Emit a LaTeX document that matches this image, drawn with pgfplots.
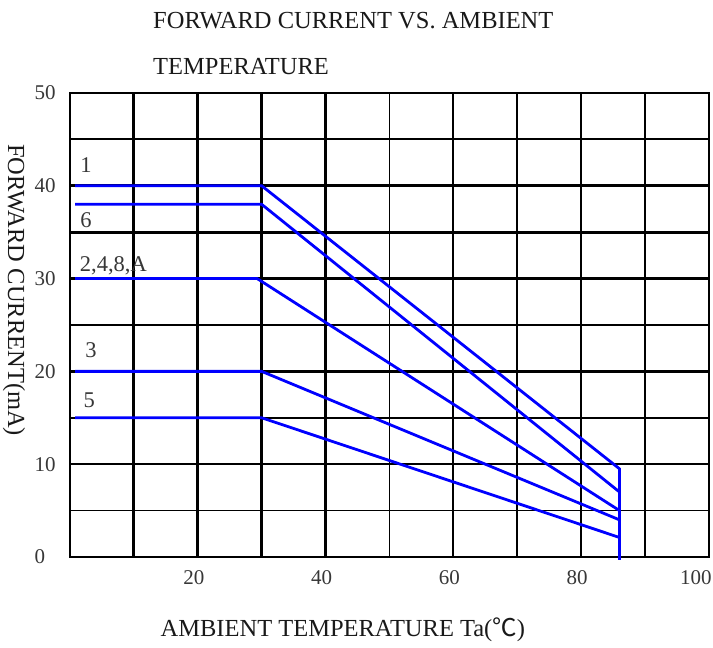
\documentclass[border=0pt]{standalone}
\usepackage{pgfplots}
\pgfplotsset{compat=1.18}
\usepackage{fontspec}
\setmainfont{Liberation Serif}
\newfontfamily\cjk{Noto Sans CJK SC}
\definecolor{lineblue}{RGB}{0,0,255}
\definecolor{ticktxt}{RGB}{55,55,55}
\definecolor{titletxt}{RGB}{25,25,25}

\newcommand{\tickfont}{\fontsize{21}{25}\selectfont}
\newcommand{\lblfont}{\fontsize{22.5}{26}\selectfont}
\newcommand{\ttlfont}{\fontsize{24.5}{29}\selectfont}

\begin{document}
\begin{tikzpicture}
\begin{axis}[
  scale only axis, width=639pt, height=464pt,
  xmin=0, xmax=100, ymin=0, ymax=50,
  xtick={0,10,...,100},
  xticklabels={,,20,,40,,60,,80,,\hspace*{-18pt}100},
  ytick={0,5,...,50},
  yticklabels={0,,10,,20,,30,,40,,50},
  grid=major,
  major grid style={black, line width=1.8pt},
  axis line style={black, line width=1.8pt},
  % heavier grid lines in the lower left part, as in the scan
  extra x ticks={0,10,20,30,40},
  extra x tick labels={},
  extra x tick style={grid=major, major grid style={black, line width=2.8pt}},
  extra y ticks={0,20,25,30,35,40},
  extra y tick labels={},
  extra y tick style={grid=major, major grid style={black, line width=2.8pt}},
  tick style={draw=none},
  ticklabel style={font=\tickfont, text=ticktxt},
  xticklabel style={yshift=-10pt, xshift=-4pt},
  yticklabel style={anchor=west, xshift=-39pt},
  /pgf/number format/assume math mode=true,
  clip=false,
]
% curves: flat to 30 C, then derated to about 86 C
\addplot[lineblue, line width=2.8pt] coordinates {(0.8,40) (30,40) (86,9.5)};
\addplot[lineblue, line width=2.8pt] coordinates {(0.8,38) (30,38) (86,7.0)};
\addplot[lineblue, line width=2.8pt] coordinates {(0.8,30) (29.3,30) (86,5.0)};
\addplot[lineblue, line width=2.8pt] coordinates {(0.8,20) (30,20) (86,4.0)};
\addplot[lineblue, line width=2.8pt] coordinates {(0.8,15) (30,15) (86,2.1)};
\addplot[lineblue, line width=2.8pt] coordinates {(86,9.6) (86,-0.3)};

\node[font=\lblfont, text=ticktxt] at (axis cs:2.5,42.2) {1};
\node[font=\lblfont, text=ticktxt] at (axis cs:2.5,36.3) {6};
\node[font=\lblfont, text=ticktxt, anchor=west] at (axis cs:1.0,31.4) {2,4,8,A};
\node[font=\lblfont, text=ticktxt] at (axis cs:3.3,22.3) {3};
\node[font=\lblfont, text=ticktxt] at (axis cs:3.0,16.9) {5};

\node[anchor=base west, font=\ttlfont, text=titletxt, inner sep=0pt] at (rel axis cs:0.13,1.140) {FORWARD CURRENT VS. AMBIENT};
\node[anchor=base west, font=\ttlfont, text=titletxt, inner sep=0pt] at (rel axis cs:0.13,1.039) {TEMPERATURE};
\node[rotate=-90, font=\ttlfont, text=titletxt, inner sep=0pt] at (rel axis cs:-0.0876,0.575) {FORWARD CURRENT(mA)};
\node[anchor=base, font=\ttlfont, text=titletxt, inner sep=0pt] at (rel axis cs:0.427,-0.172) {AMBIENT TEMPERATURE Ta({\cjk ℃})};

\coordinate (bl) at (rel axis cs:-0.1095,-0.194);
\coordinate (tr) at (rel axis cs:1.0063,1.2004);
\end{axis}
\pgfresetboundingbox
\path (bl) rectangle (tr);
\end{tikzpicture}
\end{document}
